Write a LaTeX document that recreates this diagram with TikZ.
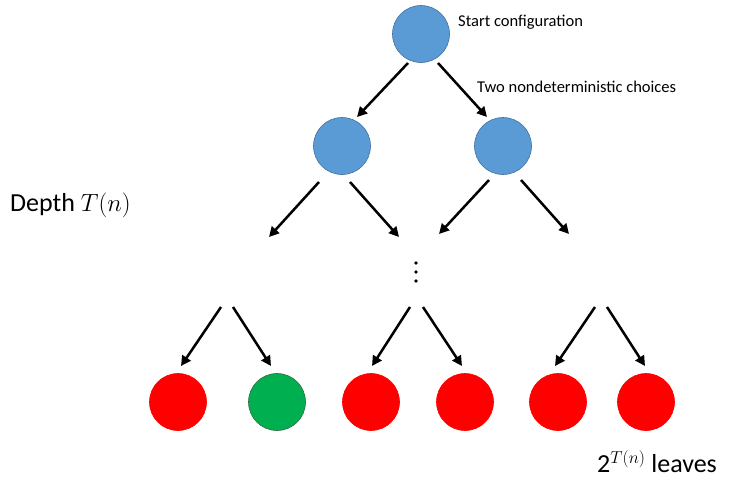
\documentclass[tikz,border=0pt]{standalone}
\usepackage{fontspec}
\setmainfont{Carlito}
\usetikzlibrary{arrows.meta}
\definecolor{cblue}{HTML}{5B9BD5}
\definecolor{cblueb}{HTML}{41719C}
\definecolor{cred}{HTML}{FF0000}
\definecolor{cgreen}{HTML}{00B050}
\definecolor{cgreenb}{HTML}{2F6B3F}
\begin{document}
\begin{tikzpicture}[x=1pt,y=-1pt,
  conf/.style={circle,minimum size=57pt,inner sep=0pt,line width=0.6pt},
  bluenode/.style={conf,fill=cblue,draw=cblueb},
  rednode/.style={conf,fill=cred,draw=cred},
  greennode/.style={conf,fill=cgreen,draw=cgreenb},
  arr/.style={line width=2.5pt,-{Triangle[length=10pt,width=10pt]}},
  lbl/.style={inner sep=0pt,anchor=west,font=\fontsize{16.5}{18}\selectfont},
  big/.style={inner sep=0pt,anchor=west,font=\fontsize{26}{30}\selectfont},
  dotst/.style={fill=black,circle,inner sep=0pt,minimum size=3.6pt}]
\useasboundingbox (0,0) rectangle (729,480);
% nodes
\node[bluenode] (top) at (421,34) {};
\node[bluenode] (ml) at (342,146) {};
\node[bluenode] (mr) at (503,146) {};
\node[rednode] (l1) at (178,402) {};
\node[greennode] (l2) at (277,402) {};
\node[rednode] (l3) at (371,402) {};
\node[rednode] (l4) at (465,402) {};
\node[rednode] (l5) at (558,402) {};
\node[rednode] (l6) at (646,402) {};
% labels
\node[lbl] (t1) at (458,22) {Start configuration};
\node[lbl] (t2) at (477,87) {Two nondeterministic choices};
\node[big] (t3) at (10,205) {Depth $T(n)$};
\node[big] (t4) at (597,462) {2$^{T(n)}$ leaves};
% dots
\node[dotst] (d1) at (416,263) {};
\node[dotst] (d2) at (416,272) {};
\node[dotst] (d3) at (416,281) {};
% coordinates
\coordinate (a0s) at (408,63); \coordinate (a0e) at (357,117);
\coordinate (a9s) at (438,63); \coordinate (a9e) at (487,117);
\coordinate (a1s) at (319,182); \coordinate (a1e) at (269,237);
\coordinate (a2s) at (350,182); \coordinate (a2e) at (399,237);
\coordinate (a3s) at (489,180); \coordinate (a3e) at (439,234);
\coordinate (a4s) at (521,180); \coordinate (a4e) at (569,234);
\coordinate (b1s) at (221,307); \coordinate (b1e) at (181,366);
\coordinate (b2s) at (233,307); \coordinate (b2e) at (271,366);
\coordinate (b3s) at (410,307); \coordinate (b3e) at (372,366);
\coordinate (b4s) at (423,307); \coordinate (b4e) at (462,366);
\coordinate (b5s) at (595,307); \coordinate (b5e) at (555,366);
\coordinate (b6s) at (607,307); \coordinate (b6e) at (645,366);
% arrows
\foreach \a in {a0,a9,a1,a2,a3,a4,b1,b2,b3,b4,b5,b6}
  \draw[arr] (\a s) -- (\a e);
\end{tikzpicture}
\end{document}
